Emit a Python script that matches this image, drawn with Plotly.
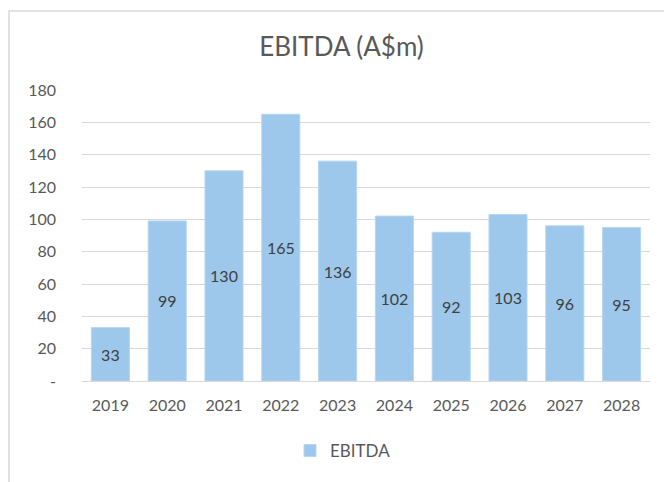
import plotly.graph_objects as go

years = ["2019", "2020", "2021", "2022", "2023", "2024", "2025", "2026", "2027", "2028"]
ebitda = [33, 99, 130, 165, 136, 102, 92, 103, 96, 95]
tick_vals = [0, 20, 40, 60, 80, 100, 120, 140, 160, 180]
tick_text = ["-", "20", "40", "60", "80", "100", "120", "140", "160", "180"]

FONT = "Lato, Arial, sans-serif"

# page has an 8px body margin; layout numbers below are in figure coordinates
L, R, T, B = 74, 30, 82, 109
PH = 482 - T - B

fig = go.Figure()
fig.add_trace(go.Bar(
    x=years, y=ebitda, name="EBITDA",
    marker=dict(color="#9DC8EC", line=dict(color="#B5D6F2", width=1)),
    text=[str(v) for v in ebitda], textposition="inside", insidetextanchor="middle",
    textfont=dict(color="#404040", size=16, family=FONT),
    width=0.67,
))

fig.update_layout(
    width=672, height=482,
    margin=dict(l=L, r=R, t=T, b=B),
    paper_bgcolor="white", plot_bgcolor="white",
    title=dict(text="EBITDA (A$m)", x=(341.5 - 8) / 672, xref="container", xanchor="center",
               y=1 - 39 / 482, yref="container", yanchor="middle",
               font=dict(size=26, color="#595959", family=FONT)),
    xaxis=dict(showgrid=False, showline=True, linecolor="#D9D9D9", linewidth=1,
               tickfont=dict(size=16, color="#595959", family=FONT), ticks="",
               ticklabelstandoff=10),
    yaxis=dict(range=[0, 180], tickvals=tick_vals, ticktext=tick_text,
               showgrid=True, gridcolor="#D9D9D9", gridwidth=1, zeroline=False,
               tickfont=dict(size=16, color="#595959", family=FONT), ticks="",
               ticklabelstandoff=25),
    showlegend=True,
    legend=dict(orientation="h", x=(343 - 8) / 672, xref="container", xanchor="center",
                y=1 - 443 / 482, yref="container", yanchor="middle",
                font=dict(size=17, color="#595959", family=FONT)),
    bargap=0.33,
)

fig.add_shape(type="rect", xref="paper", yref="paper",
              x0=(1 - L) / 568, x1=1.3, y0=-0.6, y1=(482 - B - 3) / PH,
              line=dict(color="#D9D9D9", width=1.5), fillcolor="rgba(0,0,0,0)", layer="below")

fig.write_html("out.html")
